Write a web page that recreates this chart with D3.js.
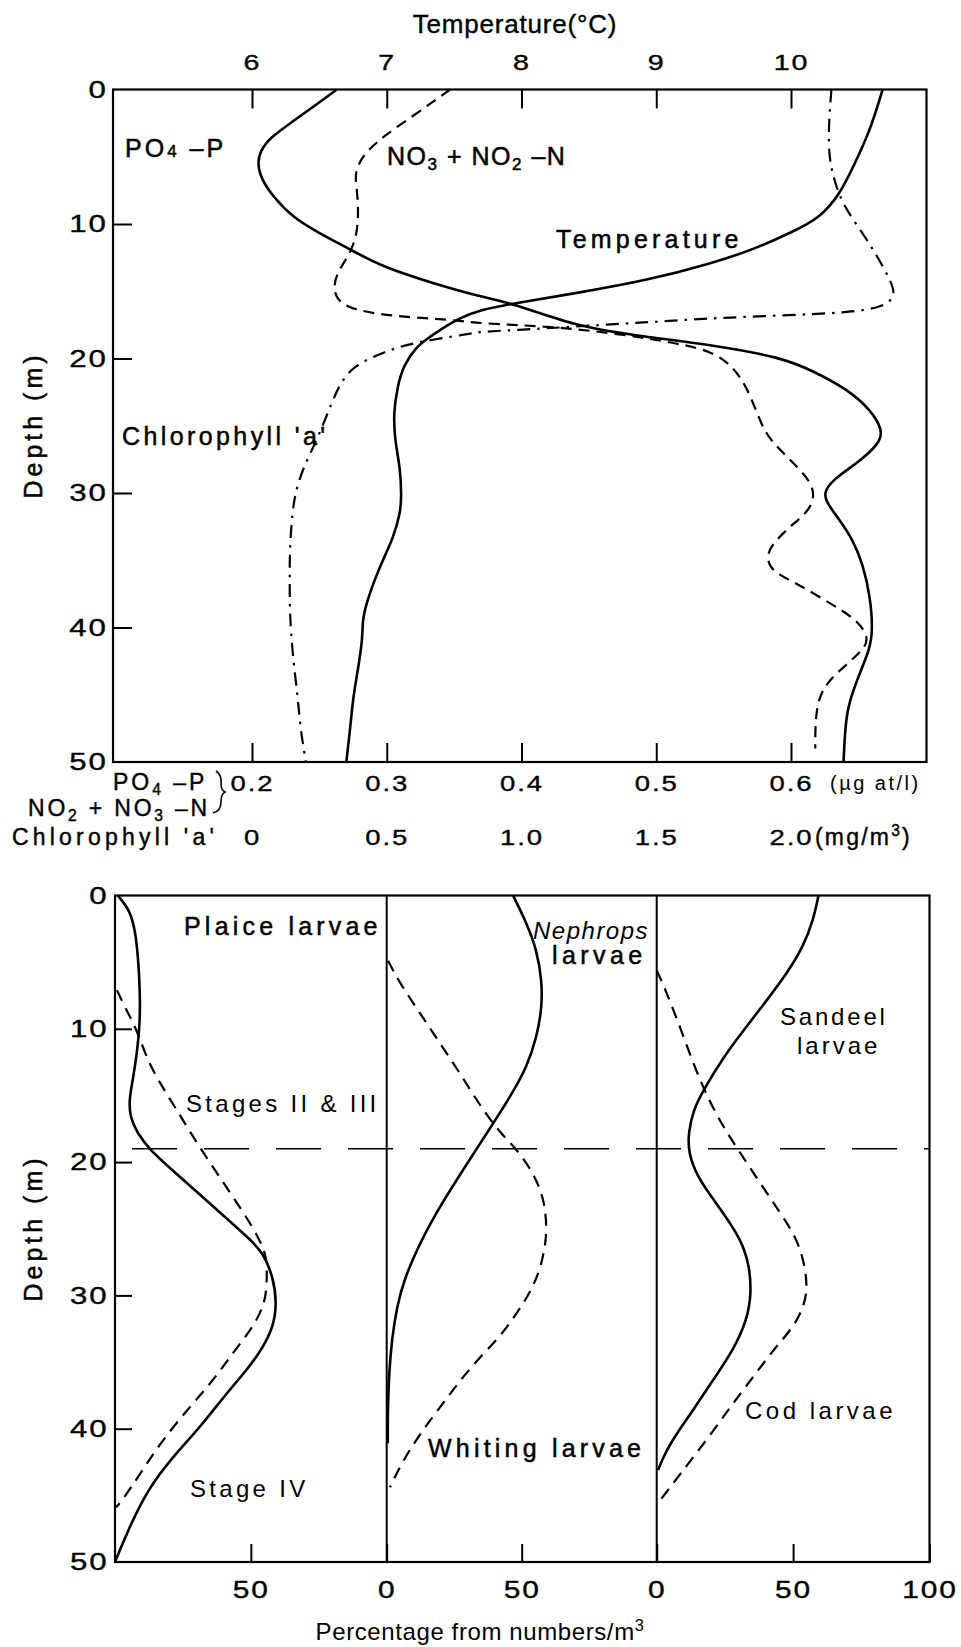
<!DOCTYPE html>
<html>
<head>
<meta charset="utf-8">
<script src="https://cdn.jsdelivr.net/npm/d3@7"></script>
<style>
  body { margin: 0; background: #fff; }
  svg { display: block; }
  text { font-family: "Liberation Sans", Arial, Helvetica, sans-serif; fill: #000; }
</style>
</head>
<body>
<svg id="chart" width="961" height="1647"></svg>
<script>
// ---------- Water column profiles (upper figure) ----------
const temperatureDepth = [0, 3, 5.8, 7.8, 9.5, 10.6, 11.9, 12.9, 14.2, 15.1, 15.9, 16.4, 17.0, 17.7, 18.4, 19.1, 20.6, 22.1, 24, 26.1, 28.1, 30.3, 31.5, 33.3, 35, 36.7, 38.2, 39.4, 40.9, 42.9, 45.2, 47.4, 50];
const temperatureC = [10.68, 10.59, 10.46, 10.36, 10.22, 10.01, 9.72, 9.42, 8.93, 8.43, 7.94, 7.69, 7.54, 7.42, 7.32, 7.22, 7.12, 7.08, 7.05, 7.06, 7.10, 7.11, 7.10, 7.05, 6.97, 6.90, 6.85, 6.82, 6.82, 6.79, 6.75, 6.73, 6.70];

const po4Depth = [0, 1.1, 2.4, 3.6, 4.6, 5.5, 6.7, 8.0, 9.5, 10.7, 11.9, 13.2, 14.4, 15.4, 15.9, 17.7, 18.4, 19.0, 19.9, 20.9, 22.3, 23.8, 25.3, 26.3, 27.8, 29.0, 30.0, 30.8, 32.0, 33.5, 35.2, 37.7, 40.7, 42.2, 43.9, 45.9, 47.8, 50];
const po4Value = [0.263, 0.248, 0.230, 0.213, 0.206, 0.204, 0.207, 0.216, 0.230, 0.250, 0.273, 0.297, 0.334, 0.369, 0.394, 0.443, 0.493, 0.542, 0.592, 0.616, 0.642, 0.659, 0.668, 0.666, 0.649, 0.631, 0.624, 0.627, 0.636, 0.646, 0.653, 0.659, 0.661, 0.656, 0.649, 0.642, 0.640, 0.639];

const nitrateDepth = [0, 1.8, 3.5, 4.9, 6.2, 7.5, 9.2, 10.7, 12.2, 13.6, 14.9, 15.9, 16.5, 16.9, 17.1, 17.4, 17.6, 18.1, 18.9, 19.5, 20.6, 22.1, 24.1, 25.8, 27.3, 28.8, 30.0, 31.3, 32.5, 34.0, 35.0, 35.9, 36.7, 38.2, 39.4, 40.9, 41.9, 43.2, 44.4, 45.9, 47.6, 49];
const nitrateValue = [0.347, 0.322, 0.297, 0.282, 0.276, 0.278, 0.279, 0.278, 0.273, 0.263, 0.260, 0.265, 0.280, 0.310, 0.347, 0.369, 0.419, 0.468, 0.518, 0.542, 0.557, 0.567, 0.575, 0.582, 0.597, 0.612, 0.618, 0.614, 0.599, 0.584, 0.582, 0.587, 0.604, 0.629, 0.649, 0.659, 0.651, 0.636, 0.624, 0.619, 0.618, 0.618];

const chlorophyllDepth = [0, 2.5, 5.0, 6.7, 8.5, 10.5, 12.4, 14.2, 15.4, 16.2, 16.6, 16.8, 17.0, 17.3, 17.6, 17.9, 18.0, 18.2, 18.8, 19.5, 20.6, 22.1, 24.1, 26.1, 28.1, 30.0, 31.5, 34.0, 36.5, 38.9, 41.9, 45.2, 47.6, 50];
const chlorophyllValue = [2.15, 2.14, 2.14, 2.16, 2.19, 2.26, 2.32, 2.37, 2.39, 2.34, 2.21, 1.96, 1.71, 1.47, 1.22, 0.97, 0.85, 0.80, 0.60, 0.49, 0.37, 0.32, 0.28, 0.24, 0.19, 0.16, 0.15, 0.14, 0.14, 0.14, 0.15, 0.17, 0.18, 0.20];

const temperatureTicks = [6, 7, 8, 9, 10];
const nutrientTicks = [0.2, 0.3, 0.4, 0.5, 0.6];
const chlorophyllTicks = [0, 0.5, 1.0, 1.5, 2.0];
const depthTicks = [0, 10, 20, 30, 40, 50];
const depthInnerTicks = [10, 20, 30, 40];

// ---------- Larval distributions (lower figure), % of numbers per m3 ----------
const plaiceSolidDepth = [0, 1.1, 2.6, 4.6, 7.1, 9.6, 11.8, 13.8, 15.3, 16.6, 17.8, 19.1, 20.6, 22.6, 24.3, 25.8, 26.8, 28.6, 30.6, 32.4, 33.9, 35.6, 37.3, 39.9, 42.1, 44.6, 47.8, 50];
const plaiceSolidPct = [1.0, 5.5, 7.4, 8.5, 9.2, 9.2, 8.1, 6.6, 5.2, 5.5, 8.1, 12.9, 21.1, 32.1, 41.5, 49.7, 54.5, 58.2, 59.6, 58.2, 54.5, 48.6, 41.2, 31.3, 21.3, 11.8, 4.4, 0];
const plaiceDashedDepth = [7.1, 8.4, 10.1, 12.3, 14.1, 16.1, 18.1, 20.4, 22.6, 24.9, 26.4, 27.3, 29.1, 30.6, 32.4, 34.3, 36.4, 38.6, 41.1, 43.4, 45.4, 45.9];
const plaiceDashedPct = [0.7, 3.7, 8.1, 11.8, 16.6, 22.8, 28.7, 36.1, 43.4, 50.8, 54.5, 55.9, 55.9, 55.2, 50.8, 43.4, 36.1, 26.5, 16.6, 9.2, 2.6, 0.4];

const nephropsDepth = [0, 2.1, 4.1, 6.4, 8.4, 10.6, 12.9, 15.1, 17.1, 18.6, 21.3, 23.8, 26.4, 28.8, 30.8, 33.3, 35.8, 38.4, 41.1];
const nephropsPct = [46.8, 51.9, 55.6, 57.5, 57.5, 55.6, 51.9, 45.7, 39.4, 34.6, 26.0, 18.3, 11.5, 6.5, 3.8, 1.9, 0.9, 0.4, 0.4];
const whitingDepth = [4.9, 6.6, 8.8, 11.1, 13.3, 15.8, 17.8, 19.3, 21.3, 23.1, 25.1, 26.4, 28.1, 29.8, 31.3, 33.1, 34.6, 36.4, 38.4, 40.4, 42.4, 44.4];
const whitingPct = [0.5, 4.9, 12.3, 19.7, 27.1, 34.6, 42.0, 49.4, 55.6, 58.6, 59.3, 58.6, 56.8, 53.1, 48.3, 42.0, 34.6, 27.1, 19.7, 12.3, 6.0, 1.2];

const sandeelDepth = [0, 1.8, 3.8, 5.8, 7.8, 10.1, 12.1, 14.6, 16.1, 17.8, 19.3, 21.1, 22.8, 24.9, 26.4, 27.9, 29.8, 31.8, 34.1, 36.3, 38.6, 40.3, 41.8, 43.1];
const sandeelPct = [59.3, 57.5, 53.8, 47.9, 40.6, 31.9, 24.5, 17.1, 13.4, 11.6, 11.6, 14.9, 20.8, 28.1, 32.0, 34.0, 34.7, 33.2, 28.1, 20.8, 13.4, 7.5, 3.1, 0.5];
const codDepth = [5.6, 7.3, 9.9, 12.6, 15.1, 17.4, 19.3, 21.6, 23.8, 25.8, 27.9, 29.6, 30.9, 32.4, 34.1, 36.1, 38.4, 40.8, 43.4, 45.4, 45.7];
const codPct = [0, 3.7, 8.6, 13.4, 18.5, 24.5, 30.6, 38.0, 45.3, 51.6, 54.5, 55.2, 53.8, 50.1, 42.7, 35.4, 26.9, 18.5, 8.6, 1.2, 0];

const thermoclineDepth = 19;
const panelTickValues = [[50], [0, 50], [0, 50, 100]];

// ---------- drawing ----------
const svg = d3.select("#chart");

const upperBox = { x0: 113, x1: 926.5, y0: 89.5, y1: 762 };
const lowerBox = { x0: 115, x1: 929.5, y0: 895.5, y1: 1562 };
const panelEdges = [115, 386.7, 656.7, 929.5];

const tempX = d3.scaleLinear().domain([6, 10]).range([252, 791]);
const nutrientX = d3.scaleLinear().domain([0.2, 0.6]).range([252, 791]);
const chlX = d3.scaleLinear().domain([0, 2]).range([252, 791]);
const upperY = d3.scaleLinear().domain([0, 50]).range([upperBox.y0, upperBox.y1]);
const lowerY = d3.scaleLinear().domain([0, 50]).range([lowerBox.y0, lowerBox.y1]);
const panelX = [0, 1, 2].map(i => d3.scaleLinear().domain([0, 100]).range([panelEdges[i], panelEdges[i + 1]]));

const SOLID = { dash: null, width: 2.6 };
const DASHED = { dash: "11,7", width: 2.2 };
const DASHDOT = { dash: "13,7,2.5,7", width: 2.2 };
const DASHED_LOW = { dash: "12,8", width: 2.2 };

function drawProfile(depths, values, xScale, yScale, style) {
  const line = d3.line()
    .x(i => xScale(values[i]))
    .y(i => yScale(depths[i]))
    .curve(d3.curveBasis);
  svg.append("path")
    .attr("d", line(d3.range(depths.length)))
    .attr("fill", "none")
    .attr("stroke", "#000")
    .attr("stroke-width", style.width)
    .attr("stroke-linejoin", "round")
    .attr("stroke-dasharray", style.dash);
}

function styleAxis(g, size, stretch) {
  g.attr("font-family", null).attr("font-size", null);
  g.select(".domain").remove();
  g.selectAll(".tick line").attr("stroke", "#000").attr("stroke-width", 2);
  g.selectAll(".tick text")
    .style("font-size", size + "px")
    .style("letter-spacing", "1.5px")
    .attr("fill", "#000")
    .attr("stroke", "#000").attr("stroke-width", 0.35)
    .attr("transform", `scale(${stretch},1)`);
}

// text with optional chemical sub/superscripts: pieces are strings or [text, "sub"|"sup"|"small"]
function label(x, y, str, opts = {}) {
  const t = svg.append("text")
    .attr("x", x).attr("y", y)
    .style("font-size", (opts.size || 24) + "px")
    .style("letter-spacing", (opts.ls == null ? 3.5 : opts.ls) + "px")
    .attr("text-anchor", opts.anchor || "start");
  if (opts.italic) t.style("font-style", "italic");
  if (opts.transform) t.attr("transform", opts.transform);
  if (opts.weight) t.attr("stroke", "#000").attr("stroke-width", opts.weight);
  const pieces = Array.isArray(str) ? str : [str];
  let pending = 0;
  pieces.forEach(p => {
    const s = t.append("tspan");
    if (typeof p === "string") {
      s.text(p);
      if (pending) { s.attr("dy", pending); pending = 0; }
    } else {
      s.text(p[0]).style("font-size", "0.68em");
      const shift = p[1] === "sub" ? 5 : p[1] === "sup" ? -9 : 0;
      if (shift + pending) s.attr("dy", shift + pending);
      pending = -shift;
    }
  });
  return t;
}

// ----- upper figure -----
svg.append("rect")
  .attr("x", upperBox.x0).attr("y", upperBox.y0)
  .attr("width", upperBox.x1 - upperBox.x0).attr("height", upperBox.y1 - upperBox.y0)
  .attr("fill", "none").attr("stroke", "#000").attr("stroke-width", 2.2);

drawProfile(chlorophyllDepth, chlorophyllValue, chlX, upperY, DASHDOT);
drawProfile(nitrateDepth, nitrateValue, nutrientX, upperY, DASHED);
drawProfile(po4Depth, po4Value, nutrientX, upperY, SOLID);
drawProfile(temperatureDepth, temperatureC, tempX, upperY, SOLID);

// temperature axis on top
svg.append("g").attr("transform", `translate(0,${upperBox.y0})`)
  .call(d3.axisTop(tempX).tickValues(temperatureTicks).tickSize(-19).tickPadding(19.5).tickFormat(d3.format("d")))
  .call(g => styleAxis(g, 22, 1.3));

// nutrient axis below
svg.append("g").attr("transform", `translate(0,${upperBox.y1})`)
  .call(d3.axisBottom(nutrientX).tickValues(nutrientTicks).tickSize(-19).tickPadding(13).tickFormat(d3.format(".1f")))
  .call(g => styleAxis(g, 22, 1.25));

// chlorophyll scale (labels only)
svg.append("g").attr("transform", `translate(0,${upperBox.y1})`)
  .call(d3.axisBottom(chlX).tickValues(chlorophyllTicks).tickSize(0).tickPadding(67).tickFormat(d => d === 0 ? "0" : d.toFixed(1)))
  .call(g => styleAxis(g, 22, 1.25));

// depth axis
svg.append("g").attr("transform", `translate(${upperBox.x0},0)`)
  .call(d3.axisLeft(upperY).tickValues(depthTicks).tickSize(0).tickPadding(4))
  .call(g => styleAxis(g, 24, 1.3));
svg.append("g").attr("transform", `translate(${upperBox.x0},0)`)
  .call(d3.axisLeft(upperY).tickValues(depthInnerTicks).tickSize(-19).tickFormat(""))
  .call(g => styleAxis(g, 24, 1));

label(515, 33, "Temperature(°C)", { anchor: "middle", size: 26, ls: 0.8, weight: 0.4 });
label(42, 425, "Depth (m)", { anchor: "middle", size: 25, ls: 4, transform: "rotate(-90,42,425)", weight: 0.5 });

// curve names
label(125, 157, ["PO", ["4", "small"], " \u2013P"], { size: 25, ls: 3, weight: 0.5 });
label(387, 165, ["NO", ["3", "sub"], " + NO", ["2", "sub"], " \u2013N"], { size: 25, ls: 1.5, weight: 0.5 });
label(556, 248, "Temperature", { size: 25, ls: 4.2, weight: 0.5 });
label(122, 445, "Chlorophyll 'a'", { size: 25, ls: 3.4, weight: 0.5 });

// scale legends under the upper figure
label(113, 790, ["PO", ["4", "sub"], " \u2013P"], { size: 23, ls: 3, weight: 0.4 });
label(28, 816, ["NO", ["2", "sub"], " + NO", ["3", "sub"], " \u2013N"], { size: 23, ls: 2.8, weight: 0.4 });
label(12, 845, "Chlorophyll 'a'", { size: 23, ls: 4.2, weight: 0.4 });
label(830, 790, "(\u00b5g at/l)", { size: 20, ls: 2.5 });
label(815, 845, ["(mg/m", ["3", "sup"], ")"], { size: 23, ls: 2.2, weight: 0.4 });

// brace grouping the two nutrient scales
const brace = d3.path();
brace.moveTo(216, 771);
brace.quadraticCurveTo(222, 775, 221, 784);
brace.quadraticCurveTo(221, 790, 225, 792);
brace.quadraticCurveTo(221, 794, 221, 802);
brace.quadraticCurveTo(221, 811, 213, 813);
svg.append("path").attr("d", brace.toString()).attr("fill", "none").attr("stroke", "#000").attr("stroke-width", 1.6);

// ----- lower figure -----
svg.append("rect")
  .attr("x", lowerBox.x0).attr("y", lowerBox.y0)
  .attr("width", lowerBox.x1 - lowerBox.x0).attr("height", lowerBox.y1 - lowerBox.y0)
  .attr("fill", "none").attr("stroke", "#000").attr("stroke-width", 2.2);
[1, 2].forEach(i => svg.append("line")
  .attr("x1", panelEdges[i]).attr("x2", panelEdges[i])
  .attr("y1", lowerBox.y0).attr("y2", lowerBox.y1)
  .attr("stroke", "#000").attr("stroke-width", 2));

svg.append("line")
  .attr("x1", 132).attr("x2", lowerBox.x1)
  .attr("y1", lowerY(thermoclineDepth)).attr("y2", lowerY(thermoclineDepth))
  .attr("stroke", "#000").attr("stroke-width", 1.7).attr("stroke-dasharray", "45,27");

drawProfile(plaiceDashedDepth, plaiceDashedPct, panelX[0], lowerY, DASHED_LOW);
drawProfile(plaiceSolidDepth, plaiceSolidPct, panelX[0], lowerY, SOLID);
drawProfile(whitingDepth, whitingPct, panelX[1], lowerY, DASHED_LOW);
drawProfile(nephropsDepth, nephropsPct, panelX[1], lowerY, SOLID);
drawProfile(codDepth, codPct, panelX[2], lowerY, DASHED_LOW);
drawProfile(sandeelDepth, sandeelPct, panelX[2], lowerY, SOLID);

panelX.forEach((sx, i) => {
  svg.append("g").attr("transform", `translate(0,${lowerBox.y1})`)
    .call(d3.axisBottom(sx).tickValues(panelTickValues[i]).tickSize(-18).tickPadding(20).tickFormat(d3.format("d")))
    .call(g => styleAxis(g, 23, 1.3));
});

svg.append("g").attr("transform", `translate(${lowerBox.x0},0)`)
  .call(d3.axisLeft(lowerY).tickValues(depthTicks).tickSize(0).tickPadding(5))
  .call(g => styleAxis(g, 24, 1.3));
svg.append("g").attr("transform", `translate(${lowerBox.x0},0)`)
  .call(d3.axisLeft(lowerY).tickValues(depthInnerTicks).tickSize(-17).tickFormat(""))
  .call(g => styleAxis(g, 24, 1));

label(42, 1228, "Depth (m)", { anchor: "middle", size: 25, ls: 4, transform: "rotate(-90,42,1228)", weight: 0.5 });
label(480, 1640, ["Percentage from numbers/m", ["3", "sup"]], { anchor: "middle", size: 24, ls: 0.6 });

label(184, 935, "Plaice larvae", { size: 25, ls: 4.2, weight: 0.5 });
label(186, 1112, "Stages II & III", { size: 24, ls: 3.3 });
label(190, 1497, "Stage IV", { size: 24, ls: 3.3 });
label(533, 939, "Nephrops", { size: 24, ls: 1.5, italic: true });
label(552, 964, "larvae", { size: 25, ls: 4.4, weight: 0.5 });
label(428, 1457, "Whiting larvae", { size: 25, ls: 4.2, weight: 0.5 });
label(780, 1025, "Sandeel", { size: 24, ls: 2.8 });
label(797, 1054, "larvae", { size: 24, ls: 3 });
label(745, 1419, "Cod larvae", { size: 24, ls: 3.5 });
</script>
</body>
</html>
